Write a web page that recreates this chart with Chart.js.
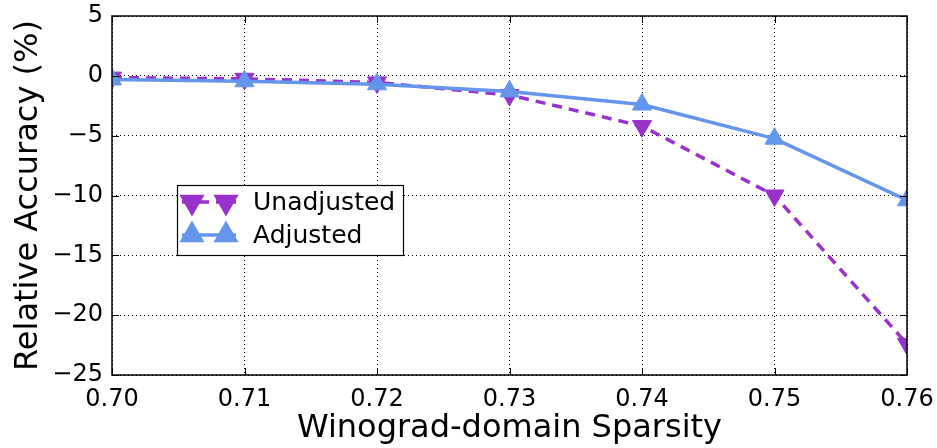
<!DOCTYPE html>
<html>
<head>
<meta charset="utf-8">
<script src="https://cdn.jsdelivr.net/npm/chart.js@4.4.1/dist/chart.umd.min.js"></script>
<style>
  html, body { margin: 0; padding: 0; background: #fff; }
  #wrap { width: 937px; height: 448px; }
</style>
</head>
<body>
<div id="wrap"><canvas id="c"></canvas></div>
<script>
// Sparsity levels in the Winograd domain
const sparsity = [0.70, 0.71, 0.72, 0.73, 0.74, 0.75, 0.76];
// Relative accuracy change (%)
const unadjusted = [-0.15, -0.25, -0.55, -1.6, -4.2, -10.0, -22.4];
const adjusted = [-0.3, -0.45, -0.7, -1.3, -2.4, -5.25, -10.4];
const xTicks = [0.70, 0.71, 0.72, 0.73, 0.74, 0.75, 0.76];
const yTicks = [5, 0, -5, -10, -15, -20, -25];
const seriesNames = ['Unadjusted', 'Adjusted'];

const PURPLE = '#9932CC';
const BLUE = '#6495ED';
const FONT = "'DejaVu Sans', sans-serif";
const DASH = [10, 7];

const fmtY = v => (v < 0 ? '\u2212' + Math.abs(v) : String(v));

// Frame, inward ticks and the boxed legend inside the plot area
const decor = {
  id: 'decor',
  afterDraw(chart) {
    const { ctx, chartArea: a, scales } = chart;
    ctx.save();
    ctx.strokeStyle = '#000';
    ctx.lineWidth = 1.5;
    ctx.setLineDash([]);
    ctx.strokeRect(a.left, a.top, a.right - a.left, a.bottom - a.top);
    ctx.lineWidth = 1;
    const tl = 7;
    ctx.beginPath();
    xTicks.forEach(v => {
      const x = Math.round(scales.x.getPixelForValue(v)) + 0.5;
      ctx.moveTo(x, a.bottom); ctx.lineTo(x, a.bottom - tl);
      ctx.moveTo(x, a.top); ctx.lineTo(x, a.top + tl);
    });
    yTicks.forEach(v => {
      const y = Math.round(scales.y.getPixelForValue(v)) + 0.5;
      ctx.moveTo(a.left, y); ctx.lineTo(a.left + tl, y);
      ctx.moveTo(a.right, y); ctx.lineTo(a.right - tl, y);
    });
    ctx.stroke();

    // legend
    const bx = 177, by = 185, bw = 226, bh = 70;
    ctx.fillStyle = '#fff';
    ctx.fillRect(bx, by, bw, bh);
    ctx.strokeStyle = '#000';
    ctx.lineWidth = 1.2;
    ctx.strokeRect(bx + 0.5, by + 0.5, bw, bh);
    const rows = [
      { y: 202, color: PURPLE, dash: DASH, rot: 180, name: seriesNames[0] },
      { y: 235, color: BLUE, dash: [], rot: 0, name: seriesNames[1] }
    ];
    rows.forEach(r => {
      ctx.strokeStyle = r.color;
      ctx.lineWidth = 3.5;
      ctx.setLineDash(r.dash);
      ctx.beginPath();
      ctx.moveTo(182, r.y); ctx.lineTo(236, r.y);
      ctx.stroke();
      ctx.setLineDash([]);
      [192, 226].forEach(px => {
        Chart.helpers.drawPoint(ctx, {
          pointStyle: 'triangle', radius: 11, rotation: r.rot, borderWidth: 1
        }, px, r.y);
        ctx.fillStyle = r.color;
        ctx.strokeStyle = r.color;
        ctx.fill();
      });
      ctx.fillStyle = '#000';
      ctx.font = '25px ' + FONT;
      ctx.textBaseline = 'middle';
      ctx.textAlign = 'left';
      ctx.fillText(r.name, 253, r.y + 1);
    });
    ctx.restore();
  }
};

new Chart(document.getElementById('c'), {
  type: 'line',
  data: {
    datasets: [
      {
        label: seriesNames[0],
        data: sparsity.map((x, i) => ({ x, y: unadjusted[i] })),
        borderColor: PURPLE,
        backgroundColor: PURPLE,
        borderWidth: 3.5,
        borderDash: DASH,
        pointStyle: 'triangle',
        pointRotation: 180,
        pointRadius: 11,
        pointBorderWidth: 1,
        pointBorderColor: PURPLE,
        pointBackgroundColor: PURPLE,
        clip: 0,
        order: 2
      },
      {
        label: seriesNames[1],
        data: sparsity.map((x, i) => ({ x, y: adjusted[i] })),
        borderColor: BLUE,
        backgroundColor: BLUE,
        borderWidth: 3.5,
        pointStyle: 'triangle',
        pointRadius: 11,
        pointBorderWidth: 1,
        pointBorderColor: BLUE,
        pointBackgroundColor: BLUE,
        clip: 0,
        order: 1
      }
    ]
  },
  options: {
    responsive: true,
    maintainAspectRatio: false,
    animation: false,
    layout: { padding: { left: 0, right: 30, top: 16, bottom: 0 } },
    plugins: { legend: { display: false }, tooltip: { enabled: false } },
    scales: {
      x: {
        type: 'linear',
        min: 0.70,
        max: 0.76,
        afterBuildTicks: s => { s.ticks = xTicks.map(v => ({ value: v })); },
        afterFit: s => { s.height = 73; s.paddingLeft = 0; s.paddingRight = 0; },
        ticks: {
          color: '#000',
          font: { family: FONT, size: 24 },
          padding: 10,
          maxRotation: 0,
          callback: v => Number(v).toFixed(2)
        },
        grid: { color: '#000', lineWidth: 1, drawTicks: false },
        border: { display: false, dash: [1, 3] },
        title: {
          display: true,
          text: 'Winograd-domain Sparsity',
          color: '#000',
          font: { family: FONT, size: 32 },
          padding: { top: 0, bottom: 0 }
        }
      },
      y: {
        min: -25,
        max: 5,
        afterBuildTicks: s => { s.ticks = yTicks.map(v => ({ value: v })); },
        afterFit: s => { s.width = 112; s.paddingTop = 0; s.paddingBottom = 0; },
        ticks: {
          color: '#000',
          font: { family: FONT, size: 24 },
          padding: 9,
          callback: v => fmtY(v)
        },
        grid: { color: '#000', lineWidth: 1, drawTicks: false },
        border: { display: false, dash: [1, 3] },
        title: {
          display: true,
          text: 'Relative Accuracy (%)',
          color: '#000',
          font: { family: FONT, size: 32 },
          padding: { top: 9, bottom: 0 }
        }
      }
    }
  },
  plugins: [decor]
});
</script>
</body>
</html>
